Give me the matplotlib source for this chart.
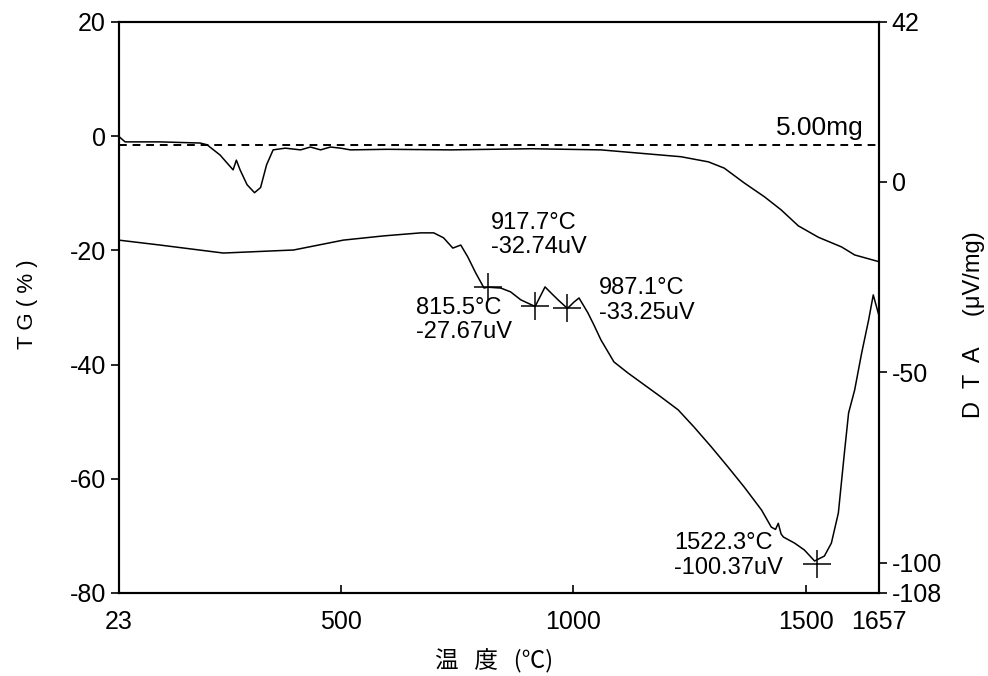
import matplotlib
matplotlib.use("Agg")
import matplotlib.pyplot as plt

plt.rcParams['font.family'] = ['Liberation Sans', 'Noto Sans CJK JP', 'DejaVu Sans']
plt.rcParams['axes.unicode_minus'] = False

# TG curve (left axis, %)
tg_temp = [23, 37, 112, 198, 213, 241, 269, 276, 284, 299, 315, 328, 341, 355,
           381, 414, 435, 457, 478, 500, 521, 600, 737, 909, 1059, 1231, 1290,
           1324, 1367, 1410, 1446, 1483, 1526, 1576, 1604, 1657]
tg_val = [0.0, -1.0, -1.0, -1.2, -1.5, -3.3, -5.9, -4.2, -5.9, -8.5, -9.9, -9.0,
          -5.0, -2.4, -2.1, -2.4, -1.9, -2.4, -1.9, -2.1, -2.4, -2.3, -2.4, -2.2,
          -2.4, -3.6, -4.5, -5.6, -8.2, -10.6, -12.9, -15.7, -17.7, -19.4, -20.8,
          -22.0]

# DTA curve (right axis, uV/mg)
dta_temp = [23, 112, 248, 399, 506, 592, 672, 700, 721, 741, 758, 773, 790, 808,
            815.5, 844, 865, 887, 917.7, 939, 952, 967, 987.1, 1001, 1012, 1031,
            1044, 1059, 1087, 1117, 1188, 1225, 1259, 1296, 1332, 1367, 1404,
            1425, 1434, 1440, 1446, 1451, 1475, 1496, 1518, 1539, 1554, 1569,
            1582, 1591, 1604, 1619, 1634, 1644, 1657]
dta_val = [-15.3, -16.6, -18.7, -17.9, -15.3, -14.2, -13.4, -13.4, -14.7, -17.4,
           -16.6, -19.7, -23.9, -27.9, -27.67, -27.9, -28.9, -31.0, -32.74,
           -27.6, -29.2, -31.0, -33.25, -31.6, -30.5, -34.4, -37.6, -41.5, -47.3,
           -50.2, -56.5, -59.9, -64.4, -69.6, -74.9, -80.2, -86.2, -90.7, -91.3,
           -89.7, -92.5, -93.3, -94.9, -96.7, -99.6, -98.3, -94.9, -87.0, -71.2,
           -60.7, -54.7, -45.0, -36.3, -29.7, -35.5]

# peak markers
peak_temp = [815.5, 917.7, 987.1, 1522.3]
peak_dta = [-27.67, -32.74, -33.25, -100.37]
peak_text = ['815.5°C\n-27.67uV', '917.7°C\n-32.74uV', '987.1°C\n-33.25uV',
             '1522.3°C\n-100.37uV']
text_pos = [(661, -30.2), (823, -7.9), (1055, -25.0), (1216, -92.0)]

tg_base = -1.5

fig = plt.figure(figsize=(9.88, 6.76), dpi=100)
ax = fig.add_axes([0.12, 0.1228, 0.77, 0.8447])
ax2 = ax.twinx()

ax.plot(tg_temp, tg_val, color='black', lw=1.1)
ax.axhline(tg_base, color='black', lw=1.4, dashes=(4, 3))
ax.text(1624, 0.2, '5.00mg', ha='right', va='baseline', fontsize=19)

ax2.plot(dta_temp, dta_val, color='black', lw=1.1)
ax2.plot(peak_temp, peak_dta, ls='none', marker='+', ms=20, mew=1.1, color='black')
for (tx, ty), s in zip(text_pos, peak_text):
    ax2.text(tx, ty, s, ha='left', va='top', fontsize=17, linespacing=1.15)

ax.set_xlim(23, 1657)
ax.set_ylim(-80, 20)
ax2.set_ylim(-108, 42)
ax.set_xticks([23, 500, 1000, 1500, 1657])
ax.set_xticklabels(['23', '500', '1000', '1500', '1657'])
ax.set_yticks([20, 0, -20, -40, -60, -80])
ax2.set_yticks([42, 0, -50, -100, -108])

ax.tick_params(axis='x', direction='in', length=6, width=1.2, pad=12, labelsize=18)
ax.tick_params(axis='y', direction='out', length=6, width=1.2, pad=3, labelsize=18)
ax2.tick_params(axis='y', direction='out', length=6, width=1.2, pad=3, labelsize=18)
for a in (ax, ax2):
    for sp in a.spines.values():
        sp.set_linewidth(1.5)

fig.text(0.028, 0.55, 'T G ( % )', rotation=90, ha='center', va='center', fontsize=16)
fig.text(0.986, 0.52, 'D  T  A　 (μV/mg)', rotation=90, ha='center', va='center',
         fontsize=17)
fig.text(0.5, 0.022, '温   度   (℃)', ha='center', va='center', fontsize=17,
         family=['Noto Sans CJK JP', 'DejaVu Sans'])

fig.savefig('out.png', dpi=100)
